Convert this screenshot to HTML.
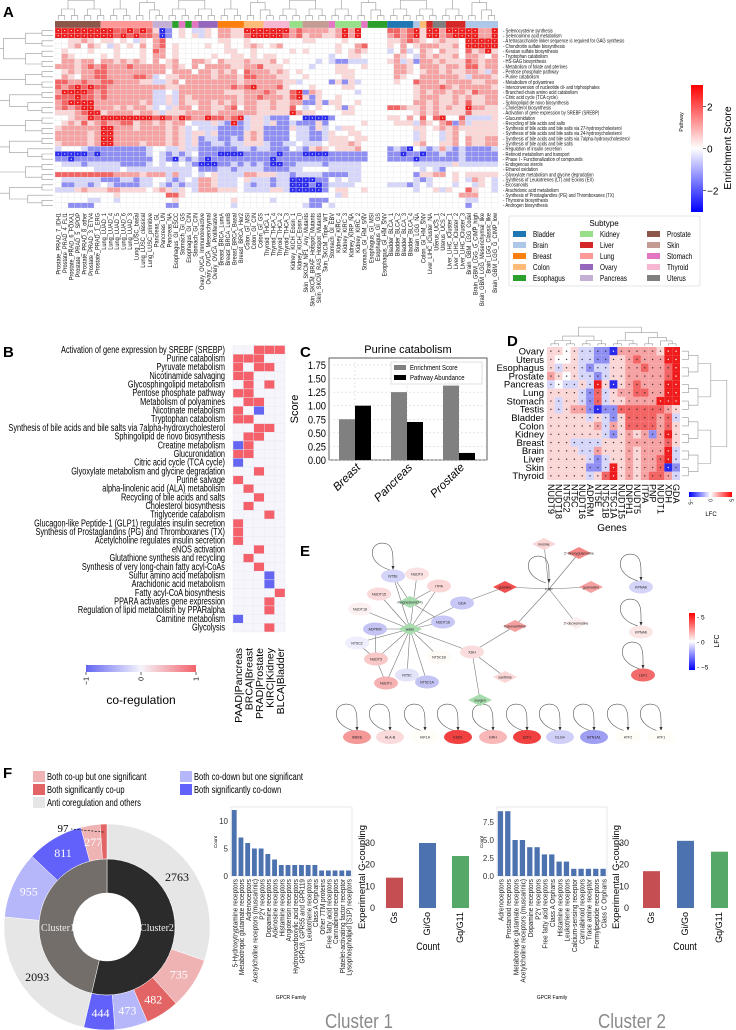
<!DOCTYPE html>
<html><head><meta charset="utf-8">
<style>
html,body{margin:0;padding:0;background:#fff;}
svg{display:block;font-family:"Liberation Sans",sans-serif;}
</style></head>
<body>
<svg id="fig" width="736" height="1030" viewBox="0 0 736 1030" xmlns="http://www.w3.org/2000/svg">
<g font-weight="bold" font-size="15" fill="#000">
<text x="3" y="17">A</text>
<text x="3" y="357">B</text>
<text x="300" y="357">C</text>
<text x="507" y="346">D</text>
<text x="300" y="556">E</text>
<text x="3" y="778">F</text>
</g>
<g id="A"></g>
<g id="B"></g>
<g id="C"></g>
<g id="D"></g>
<g id="E"></g>
<g id="F"></g>
</svg>
<script>
// ---------- data ----------
const aGroups = [["Prostate",7],["Lung",8],["Pancreas",3],["Esophagus",1],["Stomach",1],["Esophagus",1],["Stomach",1],["Ovary",3],["Breast",4],["Colon",3],["Thyroid",4],["Kidney",2],["Skin",4],["Stomach",1],["Kidney",4],["Stomach",1],["Esophagus",3],["Bladder",4],["Brain",1],["Colon",1],["Liver",1],["Uterus",2],["Liver",3],["Brain",5]];
const aColLabels = ["Prostate_PRAD_7_IDH1","Prostate_PRAD_4_FLI1","Prostate_PRAD_6_FOXA1","Prostate_PRAD_5_SPOP","Prostate_PRAD_8_other","Prostate_PRAD_3_ETV4","Prostate_PRAD_1_ERG","Lung_LUAD_1","Lung_LUAD_4","Lung_LUAD_5","Lung_LUAD_6","Lung_LUAD_3","Lung_LUSC_basal","Lung_LUSC_classical","Lung_LUSC_primitive","Pancreas_GL","Pancreas_UN","Pancreas_NA","Esophagus_GI_ESCC","Stomach_GI_GS","Esophagus_GI_CIN","Stomach_GI_CIN","Ovary_OVCA_Immunoreactive","Ovary_OVCA_Mesenchymal","Ovary_OVCA_Proliferative","Breast_BRCA_LumA","Breast_BRCA_LumB","Breast_BRCA_Basal","Breast_BRCA_Her2","Colon_GI_MSI","Colon_GI_CIN","Colon_GI_GS","Thyroid_THCA_1","Thyroid_THCA_4","Thyroid_THCA_2","Thyroid_THCA_3","Kidney_KICH_Eosin_1","Kidney_KICH_Eosin_0","Skin_SKCM_NF1_Any_Mutants","Skin_SKCM_BRAF_Hotspot_Mutants","Skin_SKCM_RAS_Hotspot_Mutants","Skin_SKCM_Triple_WT","Stomach_GI_EBV","Kidney_KIRC_4","Kidney_KIRC_3","Kidney_KIRP_NA","Kidney_KIRC_2","Stomach_GI_HM_SNV","Esophagus_GI_MSI","Esophagus_GI_GS","Esophagus_GI_HM_SNV","Bladder_BLCA_1","Bladder_BLCA_2","Bladder_BLCA_3","Bladder_BLCA_4","Brain_LGG_NA","Colon_GI_HM_SNV","Liver_LIHC_iCluster_NA","Uterus_UCS_1","Uterus_UCS_2","Liver_LIHC_iCluster_1","Liver_LIHC_iCluster_2","Liver_LIHC_iCluster_3","Brain_GBM_LGG_Codel","Brain_GBM_LGG_G_CIMP_high","Brain_GBM_LGG_Mesenchymal_like","Brain_LGG_Classic_like","Brain_GBM_LGG_G_CIMP_low"];
const aRowLabels = ["Selenocysteine synthesis","Selenoamino acid metabolism","A tetrasaccharide linker sequence is required for GAG synthesis","Chondroitin sulfate biosynthesis","Keratan sulfate biosynthesis","Tryptophan catabolism","HS-GAG biosynthesis","Metabolism of folate and pterines","Pentose phosphate pathway","Purine catabolism","Metabolism of polyamines","Interconversion of nucleotide di- and triphosphates","Branched-chain amino acid catabolism","Citric acid cycle (TCA cycle)","Sphingolipid de novo biosynthesis","Cholesterol biosynthesis","Activation of gene expression by SREBF (SREBP)","Glucuronidation","Recycling of bile acids and salts","Synthesis of bile acids and bile salts via 27-hydroxycholesterol","Synthesis of bile acids and bile salts via 24-hydroxycholesterol","Synthesis of bile acids and bile salts via 7alpha-hydroxycholesterol","Synthesis of bile acids and bile salts","Regulation of insulin secretion","Retinoid metabolism and transport","Phase I - Functionalization of compounds","Endogenous sterols","Ethanol oxidation","Glyoxylate metabolism and glycine degradation","Synthesis of Leukotrienes (LT) and Eoxins (EX)","Eicosanoids","Arachidonic acid metabolism","Synthesis of Prostaglandins (PG) and Thromboxanes (TX)","Thyroxine biosynthesis","Androgen biosynthesis"];
const aRows = [
"RRRRRRR RRrrRrRr qBb.q.l lq. ppqq RRR RRRR pr pppp qpRpR. ... rrpr RqR Rp RRR RRppR",
"RRRRRRR RRrRrRrr pBb.q.q lq. ppqq rRR RRRr pr qppq qpRpR. ... prpr RqR Rp rRR RRppR",
"..qqpq. qq.q.lq. pr..... ... qq.. q.. .... .. qq.. ..q... ... qqpr pq. qp qq. RRRRR",
"..qp.pq .lq.q.p. pr.q... .q. .q.. qpq .qp. .. .... .q..pr ... q.p. qpp pq qp. RRRRR",
".q...q. ..q...q. rp.q... ... .qq. .q. .... q. q... .q.qpq ... l.pl .pq .p qq. rqpRq",
".pq.... q.q...q. pp.q... ..q ..qq .q. qq.. .. .... l..qq. ... .pq. lpq pq qp. ppq.p",
".ppqpp. ppqpqpq. p.qp..p pq. pqqq pqq qp.q .. ..l. lbblll ... qplq bpp qp qqq rpqpp",
"pppqprp rppprppp ppqpq.p .pp ppqq ppr qqq. .. .l.. .qq..q ... .ppq .pp pq ppq rrqpp",
".qpqppr rppppppp pp.ppp. ppq pqp. rpp pqpq .q .... .qqq.. ... .ppq .qp pq pqq ppqlp",
".pq.ppr rpppprrp l.qqppp ppq pppq rrp ppqq .. q... ..qq.. ... .pq. .pp pp ppq lpppq",
"rrpprpp rrppppqq llqp.pp ppp pppq ppp pppq ql .... bqbql. ... .q.. rpp pq ppp pqqpp",
"rprRrRr rppppppp ppqqppp ppp pprp rRp pprq .. .q.. ..qq.. ... .... qpp pr pqp ppppq",
"pRRRRrp rppppppp ll.lppp ppp pqqq ppp rpqq rR bpq. ....l. ... .... qpq pp qpp qrppp",
"rrrRrrp rppppppp llqlpqp ppp pppq ppr pppq rR qbq. .q.... ... .... qpp pq qpq pqqpp",
"prRRRRp ppppppqp llqlpqq ppq pqpq ppq qpqq pp bbqb qq..q. ... .... ppq pq qpq rqqpp",
"prprRRp ppqpqppq l.lqpp. ppq qpr. ppq qpqq r. l.q. .qbq.. ... rrpq qpq pq pqq Rppqq",
"qqqprRR qppppqpp qlqqqpp ppq pppp ppq qqqq Rp qq.. ..qq.. ... .... qpq pq qqq rqqqq",
"..qppRr RRRRRRRR rRrpRrp pRr rprR lqq lbbb .. BBBB b..... ... qq.p .r. rR ..r llllq",
".qpqrqp rpprrqpp qpqpp.l llq lbRb lqq lqbb lb bbqb .....q ... .qqq lpq .p rbp lqqqq",
"qpppppp RRpppqpp ppqpql. lll bbbb lqq bbbb ql lbql .lqq.. ... .... qq. qp qpq qqqqq",
"pppppqp RRpppppp ppqpqlq qlq bbbb qpq bbbb .l lbbl q..qq. ... .... lq. .l qp. qqqqq",
"pppppqp RRpppppp ppqpqlq bll bblb qpq bbbb .l lbbl qqq.qq ... .... lq. .l qp. pqqpp",
"qppppqp RRppppqp ppqpqlq bbl lbll qqq lbbl l. lll. qqqpq. ... .... qp. .q qp. pqqpp",
"l...lbb bbbbbbbl ..llqll bbb bbbl lbl lbbb .l bqpq .qqqp. ... blbB .lb lp lbl bbbbl",
"BBBBBbB bbbbbbbl .lblbl. bbb BBBB bbb bbBb bb BBBB bbbbbb ... bbBb bBb bl bbl bbbbb",
"bbBbbbb bbbbbbbb .lbBlbl bBb bbbb bbb bBbb bb bbbb bbbbbb ... bbbb Bbb bb bbl bbbbb",
".lllbll lllbbbbl .l.l.lb BBB bblb lbl bBBb bl lllb lllll. ... .... lll ll lql lllll",
"......l lll.llll llllll. bbb llbl lll bbbb ll .... lllll. ... .... .l. lb ... .....",
"rrrrrrr rrppppqp pplpll. l.q llll ppq qqll bl lllb bbbll. ... .... bqq pp .q. qqqqq",
".llllll bbbllbll ..lbl.l ppq lll. qll lbll BB BBbb .l.ll. ... .... lbl .. .q. lpq.l",
".bbllbl .lbbbbll .lblbll ppq lll. lbl lbll BB BbBb llll.. ... lllb l.l .. .l. .lq.l",
"lllqpqq qppqqqq. qpqlq.l ppp qqq. lll lqql BB BBBb .qq..q ... .... l.. ql q.. rq..l",
"....... ..q..... ..rrq.. ... .... ... .... .. .... .lq... ... .... ... .. ..p pp...",
".....ll ..l..... ...q... ... ..q. ... .l.. .. .bbb ...... ... .... ... .. ... ll...",
"..bbbb. ........ ..bb... ... ..l. ... .... .. lbb. l..... ... .... ... .. ... b...."
];
const bRows = ["Activation of gene expression by SREBF (SREBP)","Purine catabolism","Pyruvate metabolism","Nicotinamide salvaging","Glycosphingolipid metabolism","Pentose phosphate pathway","Metabolism of polyamines","Nicotinate metabolism","Tryptophan catabolism","Synthesis of bile acids and bile salts via 7alpha-hydroxycholesterol","Sphingolipid de novo biosynthesis","Creatine metabolism","Glucuronidation","Citric acid cycle (TCA cycle)","Glyoxylate metabolism and glycine degradation","Purine salvage","alpha-linolenic acid (ALA) metabolism","Recycling of bile acids and salts","Cholesterol biosynthesis","Triglyceride catabolism","Glucagon-like Peptide-1 (GLP1) regulates insulin secretion","Synthesis of Prostaglandins (PG) and Thromboxanes (TX)","Acetylcholine regulates insulin secretion","eNOS activation","Glutathione synthesis and recycling","Synthesis of very long-chain fatty acyl-CoAs","Sulfur amino acid metabolism","Arachidonic acid metabolism","Fatty acyl-CoA biosynthesis","PPARA activates gene expression","Regulation of lipid metabolism by PPARalpha","Carnitine metabolism","Glycolysis"];
const bCols = ["PAAD|Pancreas","BRCA|Breast","PRAD|Prostate","KIRC|Kidney","BLCA|Bladder"];
const bVals = ["00111","11100","10110","11000","01010","11000","01100","10-100","11000","00110","01100","-11000","11000","-10000","00100","10000","01000","00100","01000","00010","10000","10000","10000","00100","01000","00100","000-10","000-10","00001","00010","00010","-10000","00010"];
const cCats = ["Breast","Pancreas","Prostate"];
const cEnrich = [0.75,1.25,1.37];
const cAbund = [1.0,0.70,0.13];
const cTicks = [0,0.25,0.5,0.75,1.0,1.25,1.5,1.75];
const dRows = ["Ovary","Uterus","Esophagus","Prostate","Pancreas","Lung","Stomach","Testis","Bladder","Colon","Kidney","Breast","Brain","Liver","Skin","Thyroid"];
const dCols = ["NUDT9","NUDT18","NT5C2","NT5C","NUDT16","ADPRM","NT5E","NT5C1B","NT5C1A","NUDT15","DNPH1","NUDT5","ITPA","PNP","NUDT1","XDH","GDA"];
const dVals = ["qq.qllbbBpppppqRR","q..qllbbqqprpppRR","qlqqlbllqqpprpprR","pq.qllblqqppppprR","l.llqlRqBqprpppRR","qqqqlbrlqpprrppRR","qlqqlbrlqqppppRRR","qlqppbBbbrrrrrrpq","qqqqqlqlbqrrrrprl","qqqqqqplpqrrrrprq","qqqqqqqlbqpqpbpRq","qqqllllqqqppppprq","qqqqllpqqqpqpppRl","qqqqqlblqqpqpprRl","qqqqqbblRqpqpprBb","qqqqqlqrRqpqprrpl"];
const fSegLabels = ["2763","735","482","473","444","2093","955","811","277","97"];
const fSegValues = [2763,735,482,473,444,2093,955,811,277,97];
const fSegKinds = ["anti","upone","upsig","downone","downsig","anti","downone","downsig","upone","upsig"];
const fClusterValues = [4897,4233];
const fClusterNames = ["Cluster2","Cluster1"];
const g1Families = ["5-Hydroxytryptamine receptors","Metabotropic glutamate receptors","Adrenoceptors","Acetylcholine receptors (muscarinic)","P2Y receptors","Dopamine receptors","Adenosine receptors","Histamine receptors","Angiotensin receptors","Hydroxycarboxylic acid receptors","GPR18, GPR55 and GPR119","Leukotriene receptors","Class A Orphans","Other 7TM proteins","Free fatty acid receptors","Cannabinoid receptors","Platelet-activating factor receptor","Lysophospholipid (S1P) receptors"];
const g1Counts = [12,7,6,5,5,4,3,2,2,2,2,2,2,1,1,1,1,1];
const g2Families = ["Adrenoceptors","Prostanoid receptors","Metabotropic glutamate receptors","Acetylcholine receptors (muscarinic)","Dopamine receptors","P2Y receptors","Free fatty acid receptors","Class A Orphans","Histamine receptors","Leukotriene receptors","Calcium-sensing receptor","Cannabinoid receptors","Trace amine receptor","Formylpeptide receptors","Class C Orphans"];
const g2Counts = [9,9,5,5,4,4,3,3,2,2,1,1,1,1,1];
const couplingCats = ["Gs","Gi/Go","Gq/G11"];
const coupling1 = [14,30,24];
const coupling2 = [17,31,26];

// ---------- helpers ----------
const NS="http://www.w3.org/2000/svg";
function mk(tag, attrs, parent){const e=document.createElementNS(NS,tag);for(const k in attrs)e.setAttribute(k,attrs[k]);parent.appendChild(e);return e;}
const LV={R:'#ee1c1c',r:'#f36464',p:'#f6a2a2',q:'#fbd6d6','.':'#ffffff',l:'#d6d6fb',b:'#8e8ef3',B:'#2a2aee'};
const tissueColors={Bladder:'#1f77b4',Brain:'#aec7e8',Breast:'#ff7f0e',Colon:'#ffbb78',Esophagus:'#2ca02c',Kidney:'#98df8a',Liver:'#d62728',Lung:'#ff9896',Ovary:'#9467bd',Pancreas:'#c5b0d5',Prostate:'#8c564b',Skin:'#c49c94',Stomach:'#e377c2',Thyroid:'#f7b6d2',Uterus:'#7f7f7f'};
function dendro(parent, n, pos, base, dir, depthScale){
  function rec(lo,hi){ if(hi-lo===1) return [pos(lo),0];
    const mid=Math.floor((lo+hi)/2); const a=rec(lo,mid), b=rec(mid,hi);
    const h=Math.max(a[1],b[1])+depthScale*(1+Math.log2(hi-lo));
    let d;
    if(dir==='up') d=`M${a[0]},${base-a[1]}V${base-h}H${b[0]}V${base-b[1]}`;
    else d=`M${base-a[1]},${a[0]}H${base-h}V${b[0]}H${base-b[1]}`;
    const p=mk('path',{d:d,fill:'none',stroke:'#999','stroke-width':0.6},parent);
    
    
    return [(a[0]+b[0])/2,h];}
  return rec(0,n);
}

// ---------- Panel A ----------
(function(){
const G=document.getElementById('A');
const x0=55,x1=498,y0=28,y1=208;
const ncol=aColLabels.length, nrow=aRowLabels.length;
const cw=(x1-x0)/ncol, rh=(y1-y0)/nrow;
const xA=i=>x0+i*cw, yA=j=>y0+j*rh;
let ci=0;
aGroups.forEach(g=>{
  const r=mk('rect',{x:xA(ci),y:21,width:cw*g[1],height:7,fill:tissueColors[g[0]]},G);
  
  
  ci+=g[1];});
aRows.forEach((s,j)=>{const row=s.replace(/ /g,'');
  for(let i=0;i<ncol;i++){const c=row[i]||'.';
    const r=mk('rect',{x:xA(i),y:yA(j),width:cw,height:rh,fill:LV[c],stroke:'#e4e4e4','stroke-width':0.3},G);
    
    
    if(c==='R'||c==='B'){const t=mk('circle',{cx:xA(i)+cw/2,cy:yA(j)+rh/2,r:0.6,fill:'#fff'},G);
      
      }
  }});
aRowLabels.forEach((l,j)=>{
  const t=mk('text',{x:(503)/0.78,y:yA(j)+rh/2+1.8,'font-size':5.4,transform:'scale(0.78,1)',fill:'#111'},G);t.textContent='- '+l;
  
  });
aColLabels.forEach((l,i)=>{const cx=xA(i)+cw/2+2.3;
  const t=mk('text',{x:0,y:0,'font-size':6.6,'text-anchor':'end',transform:`translate(${cx},213) rotate(-90) scale(0.85,1)`,fill:'#111'},G);t.textContent=l;
  
  });
dendro(G,ncol,i=>xA(i)+cw/2,20,'up',2.2);
dendro(G,nrow,j=>yA(j)+rh/2,53,'left',5.5);
const defs=mk('defs',{},G);
const lg=mk('linearGradient',{id:'gA',x1:0,y1:1,x2:0,y2:0},defs);
[['0','#0000ff'],['0.5','#ffffff'],['1','#ff0000']].forEach(s=>mk('stop',{offset:s[0],'stop-color':s[1]},lg));
const cb=mk('rect',{x:691,y:85,width:12,height:127,fill:'url(#gA)'},G);


const cbScale=v=>148.5-v*21;
[2,0,-2].forEach(v=>{const y=cbScale(v);
  mk('line',{x1:703,x2:706,y1:y,y2:y,stroke:'#000','stroke-width':0.6},G);
  const t=mk('text',{x:707,y:y+4,'font-size':10},G);t.textContent=(v<0?'\u2212':'')+Math.abs(v);
  
  });
const et=mk('text',{x:0,y:0,'font-size':10.5,'text-anchor':'middle',transform:'translate(731,148) rotate(-90)'},G);et.textContent='Enrichment Score';


const pt=mk('text',{x:0,y:0,'font-size':5,'text-anchor':'middle',transform:'translate(683,122) rotate(-90)'},G);pt.textContent='Pathway';


const lb=mk('rect',{x:509,y:216,width:191,height:70,fill:'#fff',stroke:'#ddd','stroke-width':0.8,rx:2},G);


const lt=mk('text',{x:604,y:226,'font-size':8,'text-anchor':'middle'},G);lt.textContent='Subtype';


const names=["Bladder","Brain","Breast","Colon","Esophagus","Kidney","Liver","Lung","Ovary","Pancreas","Prostate","Skin","Stomach","Thyroid","Uterus"];
names.forEach((n,k)=>{const col=Math.floor(k/5),row=k%5;const lx=513+col*67,ly=231+row*11;
  mk('rect',{x:lx,y:ly,width:13,height:6,fill:tissueColors[n]},G);
  const t=mk('text',{x:(lx+20)/0.8,y:ly+6,'font-size':8,transform:'scale(0.8,1)'},G);t.textContent=n;
  
  });
})();

// ---------- Panel B ----------
(function(){
const G=document.getElementById('B');
const x0=233,cw=10.4,y0=345.5,rh=8.68;
mk('rect',{x:x0,y:y0,width:cw*5,height:rh*bRows.length,fill:'#f5f5fb'},G);
bRows.forEach((l,j)=>{
  const t=mk('text',{x:225/0.7,y:y0+j*rh+7.3,'font-size':10.5,'text-anchor':'end',transform:'scale(0.7,1)'},G);t.textContent=l;
  
  
  const vals=bVals[j].match(/-?\d/g);
  vals.forEach((v,i)=>{const n=+v;
    const r=mk('rect',{x:x0+i*cw,y:y0+j*rh,width:cw,height:rh,fill:n>0?'#f4616a':n<0?'#6466f2':'#f5f5fb',stroke:'#e9e9f3','stroke-width':0.4},G);
    
    });
});
bCols.forEach((c,i)=>{const t=mk('text',{x:0,y:0,'font-size':10.5,'text-anchor':'end',transform:`translate(${x0+i*cw+cw/2+4},648) rotate(-90)`},G);t.textContent=c;
  
  });
const defs=mk('defs',{},G);
const lg=mk('linearGradient',{id:'gB',x1:0,y1:0,x2:1,y2:0},defs);
[['0','#6466f2'],['0.5','#f5f5fb'],['1','#f4616a']].forEach(s=>mk('stop',{offset:s[0],'stop-color':s[1]},lg));
const cb=mk('rect',{x:86,y:665,width:110,height:7,fill:'url(#gB)'},G);


[[-1,86],[0,141],[1,196]].forEach(a=>{mk('line',{x1:a[1],x2:a[1],y1:672,y2:675,stroke:'#000','stroke-width':0.6},G);
  const t=mk('text',{x:0,y:0,'font-size':7,'text-anchor':'end',transform:`translate(${a[1]+2.5},677) rotate(-90)`},G);t.textContent=a[0]<0?'\u22121':String(a[0]);
  
  });
const ct=mk('text',{x:141,y:704,'font-size':12,'text-anchor':'middle'},G);ct.textContent='co-regulation';


})();

// ---------- Panel C ----------
(function(){
const G=document.getElementById('C');
const ax0=329,ax1=487,ay0=358,ay1=460;
const y=v=>ay1-v*54.3;
const xc=i=>355+i*52;
mk('rect',{x:ax0,y:ay0,width:ax1-ax0,height:ay1-ay0,fill:'#fff',stroke:'#333','stroke-width':0.8},G);
cTicks.forEach(v=>{mk('line',{x1:ax0,x2:ax1,y1:y(v),y2:y(v),stroke:'#ccc','stroke-width':0.5,'stroke-dasharray':'2,2'},G);
  const t=mk('text',{x:326/0.85,y:y(v)+4,'font-size':11,'text-anchor':'end',transform:'scale(0.85,1)'},G);t.textContent=v.toFixed(2);
  
  });
cCats.forEach((c,i)=>{mk('line',{x1:xc(i),x2:xc(i),y1:ay0,y2:ay1,stroke:'#ccc','stroke-width':0.5,'stroke-dasharray':'2,2'},G);
  const a=mk('rect',{x:xc(i)-16,y:y(cEnrich[i]),width:16,height:ay1-y(cEnrich[i]),fill:'#808080'},G);
  
  
  const b=mk('rect',{x:xc(i),y:y(cAbund[i]),width:16,height:ay1-y(cAbund[i]),fill:'#000'},G);
  
  
  const t=mk('text',{x:0,y:0,'font-size':11.5,'font-style':'italic','text-anchor':'end',transform:`translate(${xc(i)+6},468) rotate(-45)`},G);t.textContent=c;
  
  });
const ti=mk('text',{x:408,y:353,'font-size':11,'text-anchor':'middle'},G);ti.textContent='Purine catabolism';


const yl=mk('text',{x:0,y:0,'font-size':11,'text-anchor':'middle',transform:'translate(298,409) rotate(-90)'},G);yl.textContent='Score';


const lg=mk('rect',{x:391,y:362,width:91,height:22,fill:'#fff',stroke:'#ccc','stroke-width':0.6},G);


[['Enrichment Score','#808080',365],['Pathway Abundance','#000',375]].forEach(e=>{mk('rect',{x:394,y:e[2],width:12,height:5,fill:e[1]},G);
  const t=mk('text',{x:410/0.8,y:e[2]+5,'font-size':7.5,transform:'scale(0.8,1)'},G);t.textContent=e[0];
  
  });
})();

// ---------- Panel D ----------
(function(){
const G=document.getElementById('D');
const x0=547,y0=347,cw=133/17,rh=133/16;
dVals.forEach((s,j)=>{for(let i=0;i<dCols.length;i++){const c=s[i];
  const r=mk('rect',{x:x0+i*cw,y:y0+j*rh,width:cw,height:rh,fill:LV[c]},G);
  
  
  const d=mk('circle',{cx:x0+i*cw+cw/2,cy:y0+j*rh+rh/2,r:0.7,fill:c==='R'||c==='B'?'#fff':'#333'},G);
  
  }
  const t=mk('text',{x:544,y:y0+j*rh+rh/2+3.3,'font-size':9.5,'text-anchor':'end'},G);t.textContent=dRows[j];
  
  });
dCols.forEach((c,i)=>{const t=mk('text',{x:0,y:0,'font-size':9,transform:`translate(${x0+i*cw+cw/2-3},484) rotate(90)`},G);t.textContent=c;
  
  });
const gt=mk('text',{x:612,y:531,'font-size':10,'text-anchor':'middle'},G);gt.textContent='Genes';


dendro(G,16,j=>y0+j*rh+rh/2,682,'left',-3.2);
dendro(G,17,i=>x0+i*cw+cw/2,346,'up',1.1);
const defs=mk('defs',{},G);
const lg=mk('linearGradient',{id:'gD',x1:0,y1:0,x2:1,y2:0},defs);
[['0','#0000ff'],['0.5','#ffffff'],['1','#ff0000']].forEach(s=>mk('stop',{offset:s[0],'stop-color':s[1]},lg));
const cb=mk('rect',{x:689,y:492,width:43,height:5,fill:'url(#gD)'},G);


[['\u22125',690],['0',710],['5',731]].forEach(a=>{const t=mk('text',{x:0,y:0,'font-size':5,transform:`translate(${a[1]-1.5},499) rotate(90)`},G);t.textContent=a[0];
  
  });
const l=mk('text',{x:711,y:516,'font-size':6,'text-anchor':'middle'},G);l.textContent='LFC';


})();

// ---------- Panel E ----------
(function(){
const G=document.getElementById('E');
const nodes=[
["NT5E",393,576,'e','#d4d4f8'],["NUDT9",417,574,'e','#fbe3e3'],["ITPA",439,586,'e','#fad6d6'],["NUDT15",379,594,'e','#fadada'],
["magnesium(2+)",410,602,'d','#a8dcae'],["NUDT18",360,609,'e','#fdf0f0'],["GDA",462,603,'e','#c8c8f6'],["NUDT16",443,622,'e','#c8c8f6'],
["ADPRM",375,629,'e','#c4c4f4'],["water",410,629,'d','#a8dcae'],["NT5C2",357,643,'e','#eeeefc'],["NUDT5",376,659,'e','#f8c8c8'],
["NT5C1B",439,657,'e','#fefaf6'],["XDH",472,652,'e','#fadcdc'],["NT5C",407,675,'e','#e3e3fa'],["NT5C1A",427,682,'e','#c4c4f4'],
["NUDT1",386,683,'e','#f6b2b2'],["oxygen",480,700,'d','#a8dcae'],["guanine",505,587,'d','#f05050'],["PNP",549,589,'t','#fff'],
["inosine",544,544,'d','#fbd6d6'],["2'-deoxyguanosine",579,553,'d','#f48888'],["guanosine",591,587,'d','#f6a0a0'],["hypoxanthine",515,626,'d','#f6a0a0'],
["2'-deoxyinosine",576,623,'d','#fdeeee'],["xanthine",505,677,'d','#fbd6d6'],["KPNA6",641,587,'e','#d4d4f8'],["KPNA6 ",641,632,'e','#fbe6e6'],["LEF1",643,675,'e','#f26a6a'],
["IKBKE",357,737,'e','#f49898'],["HLA-B",390,737,'e','#fadada'],["HIF1A",425,737,'e','#fffdf8'],["ESR1",458,737,'e','#f04040'],["ERH",493,737,'e','#f8b8b8'],
["E2F1",527,737,'e','#f04040'],["DLG4",560,737,'e','#cfcff8'],["BTN1A1",594,737,'e','#9e9ef2'],["ATF2",628,737,'e','#fffdf8'],["ATF1",661,737,'e','#fffdf8']];
const idx={};nodes.forEach((n,i)=>idx[n[0]]=i);
const edges=[["water","NT5E"],["water","NUDT9"],["water","ITPA"],["water","NUDT15"],["water","NUDT18"],["water","NUDT16"],["water","ADPRM"],["water","NT5C2"],["water","NUDT5"],["water","NT5C1B"],["water","XDH"],["water","NT5C"],["water","NT5C1A"],["water","NUDT1"],["water","GDA"],["magnesium(2+)","ITPA"],["magnesium(2+)","NUDT16"],["magnesium(2+)","NT5E"],["GDA","guanine"],["guanine","PNP"],["PNP","inosine"],["PNP","2'-deoxyguanosine"],["PNP","guanosine"],["PNP","hypoxanthine"],["PNP","2'-deoxyinosine"],["hypoxanthine","XDH"],["XDH","oxygen"],["XDH","xanthine"],["ADPRM","NUDT5"],["NT5C2","NUDT5"],["NUDT5","NUDT1"]];
edges.forEach(e=>{const a=nodes[idx[e[0]]],b=nodes[idx[e[1]]];
  const l=mk('line',{x1:a[1],y1:a[2],x2:b[1],y2:b[2],stroke:'#777','stroke-width':0.6},G);
  
  });
const loops=["NT5E","PNP","KPNA6","KPNA6 ","LEF1","IKBKE","HLA-B","HIF1A","ESR1","ERH","E2F1","DLG4","BTN1A1","ATF2","ATF1"];
loops.forEach(n=>{const a=nodes[idx[n]];const x=a[1],y=a[2]-6;
  const p=mk('path',{d:`M${x-3},${y} C${x-30},${y-8} ${x-22},${y-32} ${x-6},${y-26} C${x+1},${y-23} ${x},${y-12} ${x},${y-1}`,fill:'none',stroke:'#555','stroke-width':0.6},G);
  
  
  const h=mk('path',{d:`M${x-1.5},${y-4} L${x},${y} L${x+1.5},${y-4}Z`,fill:'#333'},G);
  
  });
nodes.forEach(n=>{let s;
  const big=n[2]>720;
  if(n[3]==='e') s=mk('ellipse',{cx:n[1],cy:n[2],rx:big?14:12,ry:big?7:6.5,fill:n[4]},G);
  else if(n[3]==='d') s=mk('path',{d:`M${n[1]-12},${n[2]} L${n[1]},${n[2]-6} L${n[1]+12},${n[2]} L${n[1]},${n[2]+6}Z`,fill:n[4]},G);
  if(s){
    }
  const t=mk('text',{x:n[1],y:n[2]+1.3,'font-size':3.6,'text-anchor':'middle',fill:'#222'},G);t.textContent=n[0].trim();
  
  });
const defs=mk('defs',{},G);
const lg=mk('linearGradient',{id:'gE',x1:0,y1:1,x2:0,y2:0},defs);
[['0','#0000ff'],['0.5','#ffffff'],['1','#ff0000']].forEach(s=>mk('stop',{offset:s[0],'stop-color':s[1]},lg));
const cb=mk('rect',{x:689,y:613,width:6,height:57,fill:'url(#gE)'},G);


[['5',617],['0',642],['\u22125',667]].forEach(a=>{const t=mk('text',{x:697,y:a[1]+2.5,'font-size':6.5},G);t.textContent='- '+a[0];
  
  });
const l=mk('text',{x:0,y:0,'font-size':7,'text-anchor':'middle',transform:'translate(719,641) rotate(-90)'},G);l.textContent='LFC';


})();

// ---------- Panel F ----------
(function(){
const G=document.getElementById('F');
const kindColor={anti:'#e6e6e6',upone:'#f0b3b3',upsig:'#e36464',downone:'#b6b6fa',downsig:'#6262fa'};
[['Both co-up but one significant','upone',33,778],['Both significantly co-up','upsig',33,791],['Anti coregulation and others','anti',33,804],['Both co-down but one significant','downone',180,778],['Both significantly co-down','downsig',180,791]].forEach(e=>{
  mk('rect',{x:e[2],y:e[3]-7,width:12,height:11,fill:kindColor[e[1]]},G);
  const t=mk('text',{x:(e[2]+14)/0.72,y:e[3]+2,'font-size':10.5,transform:'scale(0.72,1)'},G);t.textContent=e[0];
  
  });
const cx=107,cy=927;
function arc(r0,r1,a0,a1){const p=(r,a)=>[cx+r*Math.sin(a),cy-r*Math.cos(a)];const lg=(a1-a0)>Math.PI?1:0;
  const A=p(r1,a0),B=p(r1,a1),C=p(r0,a1),D=p(r0,a0);
  return `M${A}A${r1},${r1} 0 ${lg} 1 ${B}L${C}A${r0},${r0} 0 ${lg} 0 ${D}Z`;}
const tot=fSegValues.reduce((a,b)=>a+b,0);
let a=0;
fSegValues.forEach((v,i)=>{const a1=a+v/tot*2*Math.PI;
  const p=mk('path',{d:arc(68,103,a,a1),fill:kindColor[fSegKinds[i]],stroke:'#fff','stroke-width':0.5},G);
  
  
  const m=(a+a1)/2;
  if(fSegLabels[i]!=='97'){const t=mk('text',{x:cx+86*Math.sin(m),y:cy-86*Math.cos(m)+4,'font-size':12,'text-anchor':'middle','font-family':'Liberation Serif, serif',fill:fSegKinds[i]==='anti'?'#111':'#fff'},G);t.textContent=fSegLabels[i];
    
    }
  else {mk('line',{x1:cx+98*Math.sin(m),y1:cy-98*Math.cos(m)+3,x2:71,y2:829,stroke:'#111','stroke-width':0.7,'stroke-dasharray':'2,1.5'},G);
    const t=mk('text',{x:63,y:832,'font-size':11,'text-anchor':'middle','font-family':'Liberation Serif, serif'},G);t.textContent='97';
    
    }
  a=a1;});
const ctot=fClusterValues[0]+fClusterValues[1];a=0;
fClusterValues.forEach((v,i)=>{const a1=a+v/ctot*2*Math.PI;
  const p=mk('path',{d:arc(34,68,a,a1),fill:i===0?'#2b2b2b':'#736e6a',stroke:'#fff','stroke-width':0.5},G);
  
  
  a=a1;});
[['Cluster1',58],['Cluster2',157]].forEach(c=>{const t=mk('text',{x:c[1],y:931,'font-size':10,'text-anchor':'middle','font-family':'Liberation Serif, serif',fill:'#eee'},G);t.textContent=c[0];
  
  });

function famChart(fams,counts,bx0,bx1,ticks,scale,titleX){
  const by1=876,by0=807;
  mk('rect',{x:bx0,y:by0,width:bx1-bx0,height:by1-by0,fill:'#fff',stroke:'#e4e4e4','stroke-width':0.8},G);
  const y=v=>by1-v*scale; const bw=(bx1-bx0)/fams.length;
  ticks.forEach(v=>{const t=mk('text',{x:bx0-3,y:y(v)+3,'font-size':8,'text-anchor':'end',fill:'#333'},G);t.textContent=v;
    
    });
  counts.forEach((c,i)=>{const r=mk('rect',{x:bx0+i*bw+0.8,y:y(c),width:bw*0.72,height:by1-y(c),fill:'#4c72b0'},G);
    
    
    const t=mk('text',{x:0,y:0,'font-size':7.6,'text-anchor':'end',fill:'#222',transform:`translate(${bx0+i*bw+bw*0.5+3},879) rotate(-90) scale(0.85,1)`},G);t.textContent=fams[i];
    
    });
  const yl=mk('text',{x:0,y:0,'font-size':4.5,'text-anchor':'middle',transform:`translate(${bx0-14},842) rotate(-90)`},G);yl.textContent='Count';
  
  
  const xl=mk('text',{x:titleX,y:999,'font-size':5,'text-anchor':'middle'},G);xl.textContent='GPCR Family';
  
  
}
famChart(g1Families,g1Counts,231,352,[0,5,10],5.5,291);
famChart(g2Families,g2Counts,497,607,[0.0,2.5,5.0,7.5].map(v=>v.toFixed(1)),7.2,552);

function coupChart(vals,xs,axX,countX,clusterX,clusterName){
  const base=908,sc=65/30;const cols=['#c44e52','#4c72b0','#55a868'];
  [0,10,20,30].forEach(v=>{const t=mk('text',{x:axX,y:base-v*sc+3,'font-size':9,'text-anchor':'end',fill:'#222'},G);t.textContent=v;
    
    });
  vals.forEach((v,i)=>{const r=mk('rect',{x:xs[i],y:base-v*sc,width:17,height:v*sc,fill:cols[i]},G);
    
    
    const t=mk('text',{x:0,y:0,'font-size':9,'text-anchor':'end',transform:`translate(${xs[i]+11},912) rotate(-90)`},G);t.textContent=couplingCats[i];
    
    });
  const yl=mk('text',{x:0,y:0,'font-size':9.5,'text-anchor':'middle',transform:`translate(${axX-10},877) rotate(-90)`},G);yl.textContent='Experimental G-coupling';
  
  
  const cl=mk('text',{x:countX/0.8,y:950,'font-size':11,'text-anchor':'middle',transform:'scale(0.8,1)'},G);cl.textContent='Count';
  
  
  const ct=mk('text',{x:clusterX/0.85,y:1028,'font-size':20,'text-anchor':'middle',fill:'#8a8a8a',transform:'scale(0.85,1)'},G);ct.textContent=clusterName;
  
  
}
coupChart(coupling1,[386,419,452],375,428,359,'Cluster 1');
coupChart(coupling2,[643,677,711],629,685,632,'Cluster 2');
})();
</script>
</body></html>
